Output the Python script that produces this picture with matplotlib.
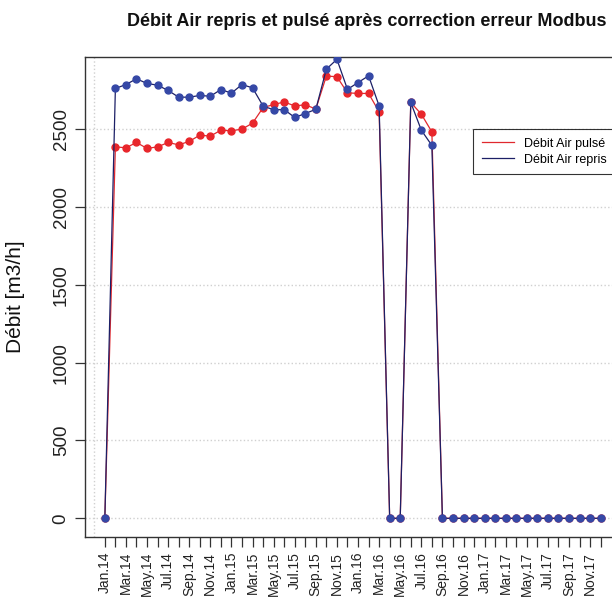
import numpy as np
import matplotlib
matplotlib.use("Agg")
import matplotlib.pyplot as plt

plt.rcParams['font.family'] = ['Liberation Sans', 'DejaVu Sans']

# mois jan.2014 -> dec.2017
mois = ['Jan', 'Feb', 'Mar', 'Apr', 'May', 'Jun',
        'Jul', 'Aug', 'Sep', 'Oct', 'Nov', 'Dec']
annees = ['14', '15', '16', '17']
labels = [m + '.' + a for a in annees for m in mois]

debit_pulse = [0, 2385, 2379, 2413, 2375, 2385, 2413, 2398, 2420, 2460, 2454, 2492,
               2488, 2499, 2537, 2637, 2657, 2673, 2648, 2655, 2628, 2840, 2835, 2732,
               2728, 2728, 2610, 0, 0, 2670, 2595, 2481, 0, 0, 0, 0,
               0, 0, 0, 0, 0, 0, 0, 0, 0, 0, 0, 0]
debit_repris = [0, 2760, 2785, 2822, 2792, 2781, 2747, 2704, 2704, 2715, 2710, 2753,
                2730, 2785, 2764, 2647, 2623, 2624, 2574, 2599, 2626, 2884, 2947, 2754,
                2798, 2841, 2648, 0, 0, 2670, 2492, 2394, 0, 0, 0, 0,
                0, 0, 0, 0, 0, 0, 0, 0, 0, 0, 0, 0]

idx = np.arange(1, len(labels) + 1)

fig = plt.figure(figsize=(6.12, 6.06), dpi=100)
W, H = 612, 606
ax = fig.add_axes([85 / W, 1 - 536.7 / H, 535.5 / W, 479.4 / H])

ax.plot(idx, debit_pulse, color='#e0282e', lw=0.9, marker='o', ms=5,
        mfc='#e8262b', mec='#e8262b', label='Débit Air pulsé', zorder=3)
ax.plot(idx, debit_repris, color='#1c1f66', lw=0.9, marker='o', ms=5,
        mfc='#3548a6', mec='#3548a6', label='Débit Air repris', zorder=4)

ax.set_xlim(-0.88, 49.88)
ax.set_ylim(-118, 2960)

ax.set_xticks(idx)
ax.set_xticklabels([l if i % 2 == 0 else '' for i, l in enumerate(labels)],
                   rotation=90, fontsize=10, color='#222222')
ax.set_xticks(np.arange(0, 50, 10), minor=True)
ax.tick_params(axis='x', which='minor', length=0)
ax.set_yticks(np.arange(0, 3000, 500))
ax.set_yticklabels([str(v) for v in np.arange(0, 3000, 500)], rotation=90,
                   va='center', fontsize=13.5, color='#222222')
ax.tick_params(axis='both', which='major', length=7, width=0.9, color='#333333', pad=4)

ax.grid(which='minor', axis='x', color='#d0d0d0', ls=':', lw=1)
ax.grid(which='major', axis='y', color='#d0d0d0', ls=':', lw=1)
ax.set_axisbelow(True)

for s in ax.spines.values():
    s.set_color('#333333')
    s.set_linewidth(1.0)

ax.set_ylabel('Débit [m3/h]', fontsize=15, labelpad=20, color='#111111')
fig.text(367 / W, 1 - 22 / H, 'Débit Air repris et pulsé après correction erreur Modbus',
         ha='center', va='center', fontsize=13, fontweight='bold', color='#111111')

leg = ax.legend(loc='upper left', bbox_to_anchor=(473 / W, 1 - 129 / H),
                bbox_transform=fig.transFigure, fontsize=9, frameon=True,
                fancybox=False, edgecolor='black', handlelength=2.6,
                borderpad=0.7, labelspacing=0.3, handletextpad=0.8,
                borderaxespad=0)
for h in leg.legend_handles:
    h.set_marker('')
leg.get_frame().set_linewidth(0.8)

fig.savefig('out.png', dpi=100)
